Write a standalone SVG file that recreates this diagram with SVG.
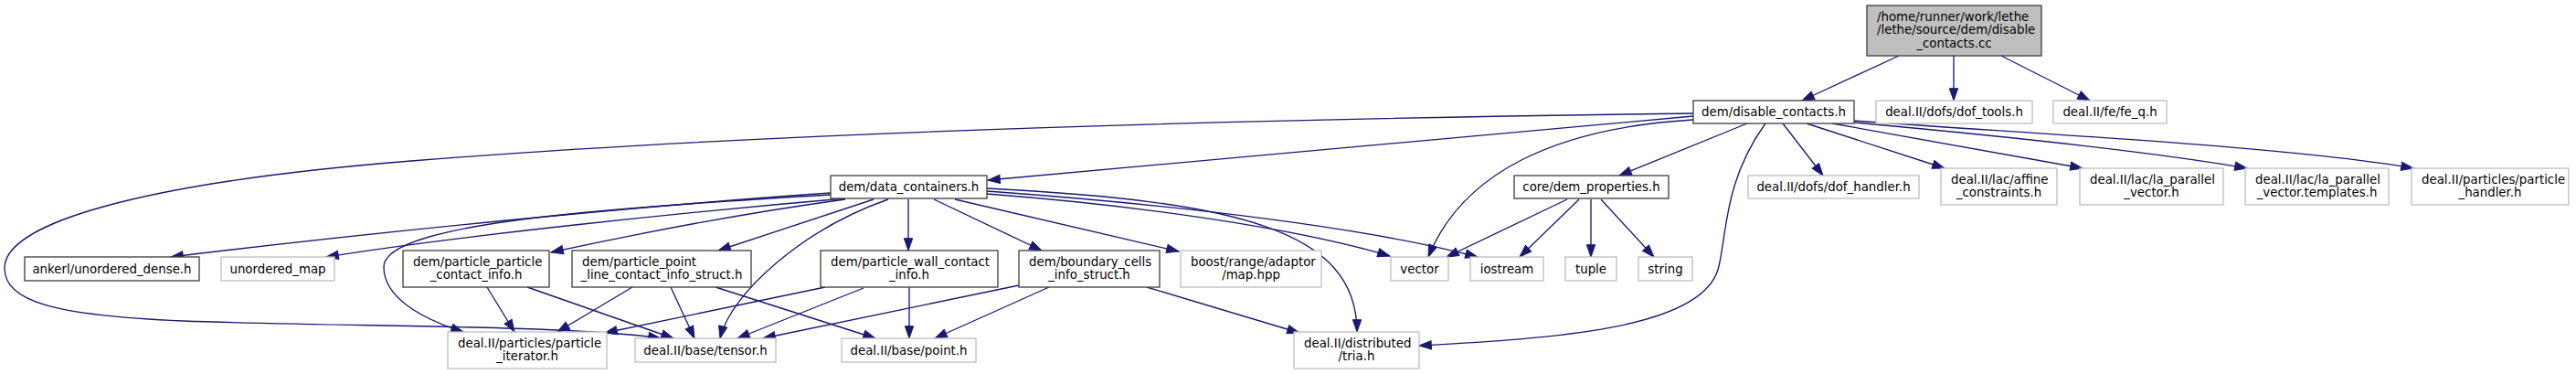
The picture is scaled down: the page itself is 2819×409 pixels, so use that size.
<svg xmlns="http://www.w3.org/2000/svg" width="2819" height="409" viewBox="0 0 2819 409">
<style>
.n{fill:#ffffff;stroke:#404040;stroke-width:1.33}
.g{fill:#ffffff;stroke:#bfbfbf;stroke-width:1.33}
.r{fill:#bfbfbf;stroke:#404040;stroke-width:1.33}
text{font-family:"DejaVu Sans","Liberation Sans",sans-serif;font-size:13.33px;fill:#000000}
.m{text-anchor:middle}
.s{text-anchor:start}
.e{fill:none;stroke:#191970;stroke-width:1.33;marker-end:url(#ah)}
</style>
<defs>
<marker id="ah" markerUnits="userSpaceOnUse" markerWidth="16" markerHeight="12" viewBox="0 -6 14 12" refX="13.3" refY="0" orient="auto">
<path d="M0,-4.67 L13.33,0 L0,4.67 Z" fill="#191970" stroke="#191970" stroke-width="1"/>
</marker>
</defs>
<rect width="2819" height="409" fill="#ffffff"/>
<g id="edges">
<path class="e" d="M2078,61 L1972,110"/>
<path class="e" d="M2138,61 L2138,110"/>
<path class="e" d="M2190,61 L2287,110"/>
<path class="e" d="M1853,127 L1081,197"/>
<path class="e" d="M1853,124 C1300,131 800,148 450,176 C150,200 5,245 5,293 C5,330 60,345 200,351 C400,358 620,355 723,370"/>
<path class="e" d="M1853,131 C1700,140 1600,190 1563,281"/>
<path class="e" d="M1912,135 L1772,192"/>
<path class="e" d="M1932,135 C1885,200 1890,260 1880,295 C1860,360 1700,370 1553,378"/>
<path class="e" d="M1951,135 L1995,192"/>
<path class="e" d="M1977,135 L2128,184"/>
<path class="e" d="M2005,135 L2279,184"/>
<path class="e" d="M2029,134 C2150,145 2350,165 2459,184"/>
<path class="e" d="M2029,132 C2250,148 2500,160 2641,184"/>
<path class="e" d="M909,211 C700,225 400,255 187,281"/>
<path class="e" d="M925,217 C750,232 500,258 357,281"/>
<path class="e" d="M909,213 C650,228 420,245 420,292 C420,325 460,348 507,363"/>
<path class="e" d="M925,218 C800,235 700,255 603,276"/>
<path class="e" d="M956,218 L786,274"/>
<path class="e" d="M972,218 C880,250 800,320 788,370"/>
<path class="e" d="M994,218 L994,274"/>
<path class="e" d="M1022,218 L1140,274"/>
<path class="e" d="M1045,218 L1290,275"/>
<path class="e" d="M1080,209 C1300,225 1500,250 1617,281"/>
<path class="e" d="M1080,212 C1250,225 1420,250 1521,280"/>
<path class="e" d="M1080,206 C1350,220 1485,250 1485,363"/>
<path class="e" d="M533,314 L563,363"/>
<path class="e" d="M577,314 L737,370"/>
<path class="e" d="M692,314 L610,363"/>
<path class="e" d="M734,314 L760,370"/>
<path class="e" d="M783,314 L958,370"/>
<path class="e" d="M903,314 L662,364"/>
<path class="e" d="M945,315 L807,370"/>
<path class="e" d="M995,314 L995,370"/>
<path class="e" d="M1115,312 L835,370"/>
<path class="e" d="M1148,314 L1023,370"/>
<path class="e" d="M1255,314 L1422,364"/>
<path class="e" d="M1715,218 L1583,281"/>
<path class="e" d="M1728,218 L1663,281"/>
<path class="e" d="M1741,218 L1741,281"/>
<path class="e" d="M1752,218 L1810,281"/>
</g>
<g id="node-root">
<rect class="r" x="2043" y="6" width="191" height="55"/>
<text class="s" x="2054" y="22.5">/home/runner/work/lethe</text>
<text class="s" x="2054" y="37.3">/lethe/source/dem/disable</text>
<text class="m" x="2138.5" y="52">_contacts.cc</text>
</g>
<g id="node-disable-contacts">
<rect class="n" x="1853" y="110" width="176" height="25"/>
<text class="m" x="1941" y="127">dem/disable_contacts.h</text>
</g>
<g id="node-dof-tools">
<rect class="g" x="2053" y="110" width="171" height="25"/>
<text class="m" x="2138.5" y="127">deal.II/dofs/dof_tools.h</text>
</g>
<g id="node-fe-q">
<rect class="g" x="2247" y="110" width="124" height="25"/>
<text class="m" x="2309" y="127">deal.II/fe/fe_q.h</text>
</g>
<g id="node-data-containers">
<rect class="n" x="909" y="192" width="171" height="25"/>
<text class="m" x="994.5" y="209">dem/data_containers.h</text>
</g>
<g id="node-dem-properties">
<rect class="n" x="1657" y="192" width="169" height="25"/>
<text class="m" x="1741.5" y="209">core/dem_properties.h</text>
</g>
<g id="node-dof-handler">
<rect class="g" x="1913" y="192" width="187" height="25"/>
<text class="m" x="2006.5" y="209">deal.II/dofs/dof_handler.h</text>
</g>
<g id="node-affine">
<rect class="g" x="2124" y="184" width="127" height="40"/>
<text class="s" x="2135" y="200.5">deal.II/lac/affine</text>
<text class="m" x="2187.5" y="215.3">_constraints.h</text>
</g>
<g id="node-la-vector">
<rect class="g" x="2276" y="184" width="157" height="40"/>
<text class="s" x="2287" y="200.5">deal.II/lac/la_parallel</text>
<text class="m" x="2354.5" y="215.3">_vector.h</text>
</g>
<g id="node-la-vector-templates">
<rect class="g" x="2457" y="184" width="157" height="40"/>
<text class="s" x="2468" y="200.5">deal.II/lac/la_parallel</text>
<text class="m" x="2535.5" y="215.3">_vector.templates.h</text>
</g>
<g id="node-particle-handler">
<rect class="g" x="2639" y="184" width="172" height="40"/>
<text class="s" x="2650" y="200.5">deal.II/particles/particle</text>
<text class="m" x="2725" y="215.3">_handler.h</text>
</g>
<g id="node-ankerl">
<rect class="n" x="27" y="281" width="191" height="26"/>
<text class="m" x="122.5" y="298.5">ankerl/unordered_dense.h</text>
</g>
<g id="node-unordered-map">
<rect class="g" x="242" y="281" width="124" height="26"/>
<text class="m" x="304" y="298.5">unordered_map</text>
</g>
<g id="node-pp-contact">
<rect class="n" x="441" y="274" width="160" height="40"/>
<text class="s" x="452" y="290.5">dem/particle_particle</text>
<text class="m" x="521" y="305.3">_contact_info.h</text>
</g>
<g id="node-ppl-contact">
<rect class="n" x="626" y="274" width="196" height="40"/>
<text class="s" x="637" y="290.5">dem/particle_point</text>
<text class="m" x="724" y="305.3">_line_contact_info_struct.h</text>
</g>
<g id="node-pw-contact">
<rect class="n" x="898" y="274" width="194" height="40"/>
<text class="s" x="909" y="290.5">dem/particle_wall_contact</text>
<text class="m" x="995" y="305.3">_info.h</text>
</g>
<g id="node-boundary-cells">
<rect class="n" x="1115" y="274" width="154" height="40"/>
<text class="s" x="1126" y="290.5">dem/boundary_cells</text>
<text class="m" x="1192" y="305.3">_info_struct.h</text>
</g>
<g id="node-boost-map">
<rect class="g" x="1292" y="274" width="154" height="40"/>
<text class="s" x="1303" y="290.5">boost/range/adaptor</text>
<text class="m" x="1369" y="305.3">/map.hpp</text>
</g>
<g id="node-vector">
<rect class="g" x="1522" y="281" width="63" height="26"/>
<text class="m" x="1553.5" y="298.5">vector</text>
</g>
<g id="node-iostream">
<rect class="g" x="1609" y="281" width="80" height="26"/>
<text class="m" x="1649" y="298.5">iostream</text>
</g>
<g id="node-tuple">
<rect class="g" x="1713" y="281" width="56" height="26"/>
<text class="m" x="1741" y="298.5">tuple</text>
</g>
<g id="node-string">
<rect class="g" x="1793" y="281" width="59" height="26"/>
<text class="m" x="1822.5" y="298.5">string</text>
</g>
<g id="node-particle-iterator">
<rect class="g" x="490" y="363" width="174" height="40"/>
<text class="s" x="501" y="379.5">deal.II/particles/particle</text>
<text class="m" x="577" y="394.3">_iterator.h</text>
</g>
<g id="node-tensor">
<rect class="g" x="695" y="370" width="154" height="26"/>
<text class="m" x="772" y="387.5">deal.II/base/tensor.h</text>
</g>
<g id="node-point">
<rect class="g" x="921" y="370" width="147" height="26"/>
<text class="m" x="994.5" y="387.5">deal.II/base/point.h</text>
</g>
<g id="node-tria">
<rect class="g" x="1416" y="363" width="137" height="40"/>
<text class="s" x="1427" y="379.5">deal.II/distributed</text>
<text class="m" x="1484.5" y="394.3">/tria.h</text>
</g>
</svg>
